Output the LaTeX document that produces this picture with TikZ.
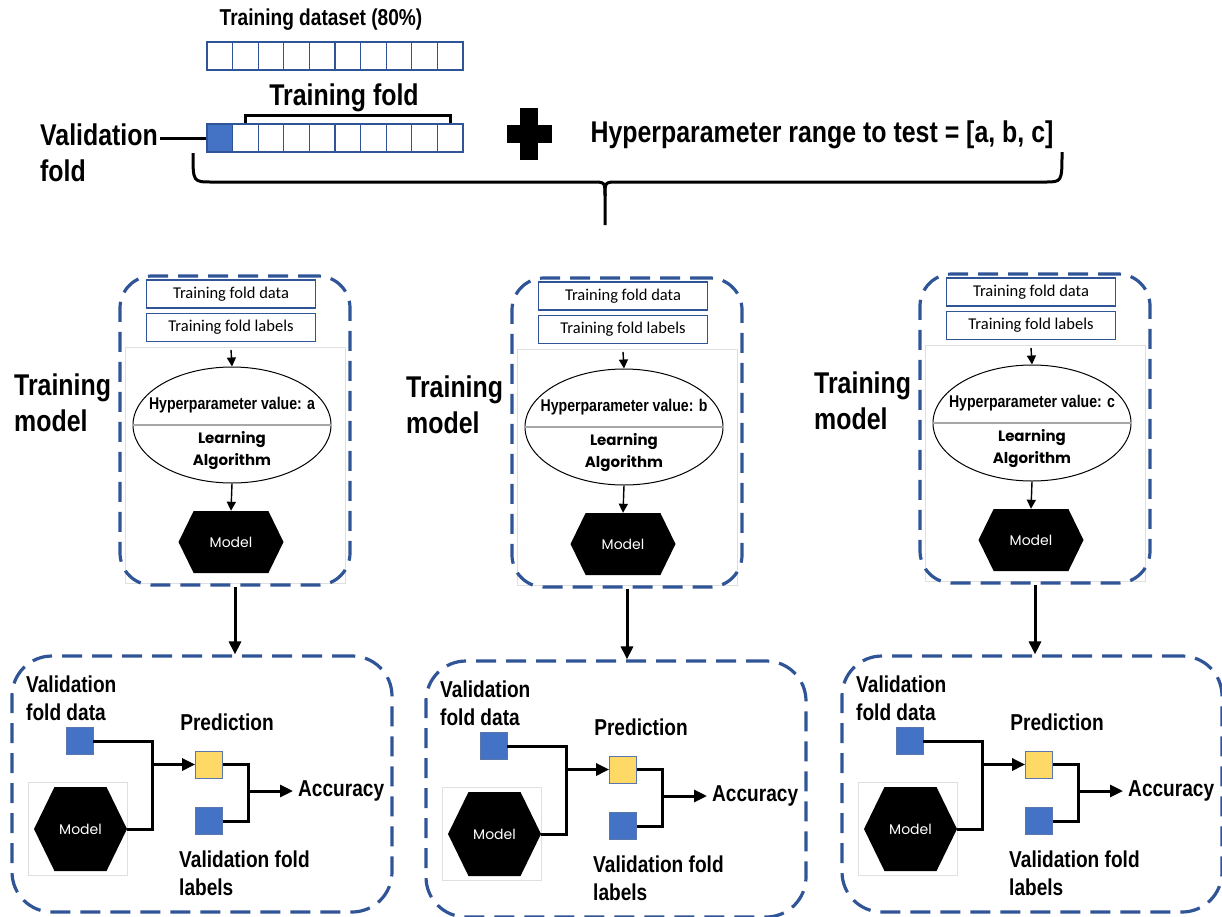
\documentclass[tikz,border=0pt]{standalone}
\usepackage{fontspec}
\setmainfont{Liberation Sans}
\newfontfamily\narrowfont[FakeStretch=0.83]{Liberation Sans}
\newfontfamily\calfont{Carlito}
\newfontfamily\geofont{Poppins}
\usetikzlibrary{arrows.meta,positioning,shapes.geometric,shapes.symbols}
\definecolor{cvblue}{RGB}{68,114,196}
\definecolor{cvdark}{RGB}{47,85,151}
\definecolor{cvyellow}{RGB}{255,217,102}

\tikzset{
  biglabel/.style={font=\narrowfont\bfseries\fontsize{30}{36}\selectfont, align=left, inner sep=0pt},
  midlabel/.style={font=\narrowfont\bfseries\fontsize{23}{28}\selectfont, align=left, inner sep=0pt},
  cell/.style={draw=cvdark, line width=1.3pt, minimum width=25.6pt, minimum height=28pt, inner sep=0pt},
  foldbox/.style={draw=cvdark, line width=1.3pt, minimum width=169pt, minimum height=28pt, inner sep=0pt, font=\calfont\fontsize{16.5}{18}\selectfont},
  dashbox/.style={draw=cvdark, line width=3.2pt, dash pattern=on 20pt off 10pt, rounded corners=32pt, inner sep=0pt},
  hexmodel/.style={signal, signal to=east and west, signal pointer angle=128, fill=black, text=white, inner sep=0pt, font=\geofont\fontsize{14}{16}\selectfont},
  sq/.style={draw=cvdark!80, line width=0.8pt, minimum size=27pt, inner sep=0pt},
  thinarrow/.style={-{Triangle[length=9pt,width=9pt]}, line width=1.4pt},
  fatarrow/.style={-{Triangle[length=13pt,width=12pt]}, line width=3pt},
  wire/.style={line width=3pt},
}

\begin{document}
\begin{tikzpicture}[x=1pt,y=-1pt]
\useasboundingbox (0,0) rectangle (1222,916);
% -- Top: dataset and folds --
\node[midlabel] (dataset) at (321,20) {Training dataset (80\%)};
\foreach \i in {0,...,9}
  \node[cell] (top\i) at (219.8+25.6*\i,56) {};
\foreach \i in {0,...,9}
  \node[cell] (row\i) at (219.8+25.6*\i,138) {};
\node[cell, fill=cvblue] at (row0) {};
\node[biglabel] (foldlbl) at (344,98) {Training fold};
\draw[wire] (row1.north) -- ++(0,-8) -| (row9.north);
\node[biglabel, anchor=west] (valfold) at (40,153) {Validation\\fold};
\coordinate (valend) at (160,138);
\draw[wire] (row0.west) -- (valend);
% plus sign
\fill (507,125) rectangle (552,143);
\fill (520,108) rectangle (538,160);
\node[biglabel] (hrange) at (822,135) {Hyperparameter range to test = [a, b, c]};
% brace
\coordinate (brL) at (193,153);
\coordinate (brR) at (1062,152);
\coordinate (brtip) at (605,225);
\draw[wire] (brL) .. controls (193,182) .. (212,182) -- (592,182)
  .. controls (605,182) .. (605,196) -- (brtip);
\draw[wire] (605,196) .. controls (605,182) .. (618,182) -- (1045,182)
  .. controls (1062,182) .. (brR);
% -- Middle: training models --
\foreach \cx/\dy/\hv in {231/0/a, 623/2/b, 1031/-2/c}{
  \node[biglabel, anchor=west] (train\hv) at (\cx-217,403+\dy) {Training\\model};
  \draw[gray!25, line width=0.6pt] (\cx-106,347+\dy) rectangle (\cx+114,583+\dy);
  \node[dashbox, minimum width=230pt, minimum height=309pt] (tbox\hv) at (\cx+4,430.5+\dy) {};
  \node[foldbox] (fdata\hv) at (\cx,294+\dy) {Training fold data};
  \node[foldbox, below=4pt of fdata\hv] (flabel\hv) {Training fold labels};
  \node[ellipse, draw, line width=1pt, minimum width=198pt, minimum height=116pt, inner sep=0pt] (ell\hv) at (\cx+1,425+\dy) {};
  \draw[gray!70, line width=1.4pt] (ell\hv.west) -- (ell\hv.east);
  \node[font=\narrowfont\bfseries\fontsize{17}{20}\selectfont] (hval\hv) at ([yshift=20pt]ell\hv.center) {Hyperparameter value: \hv};
  \node[font=\geofont\bfseries\fontsize{15}{22}\selectfont, align=center] (alg\hv) at ([yshift=-26pt]ell\hv.center) {Learning\\Algorithm};
  \draw[thinarrow] ([yshift=-8pt]flabel\hv.south) -- (ell\hv.north);
  \node[hexmodel, minimum width=105pt, minimum height=62pt] (mod\hv) at (\cx,542+\dy) {Model};
  \draw[thinarrow] (ell\hv.south) -- (mod\hv.north);
}
% -- Bottom: validation --
\foreach \dx/\dy/\hv in {0/0/a, 414/5/b, 830/0/c}{
  \node[dashbox, rounded corners=40pt, minimum width=380pt, minimum height=256pt] (vbox\hv) at (202+\dx,784+\dy) {};
  \node[midlabel, anchor=west] (vdatalbl\hv) at (26+\dx,698+\dy) {Validation\\fold data};
  \node[sq, fill=cvblue] (vdata\hv) at (79.5+\dx,741+\dy) {};
  \draw[gray!25, line width=0.6pt] (28+\dx,782+\dy) rectangle (127+\dx,875+\dy);
  \node[hexmodel, minimum width=93pt, minimum height=84pt] (vmod\hv) at (80.5+\dx,829+\dy) {Model};
  \node[sq, fill=cvyellow] (pred\hv) at (209+\dx,764.5+\dy) {};
  \node[midlabel] (predlbl\hv) at (227+\dx,722+\dy) {Prediction};
  \node[sq, fill=cvblue] (vlab\hv) at (209+\dx,821+\dy) {};
  \node[midlabel, anchor=west] (vlablbl\hv) at (179+\dx,873+\dy) {Validation fold\\labels};
  \node[midlabel, anchor=west] (acc\hv) at (298+\dx,791+\dy) {Accuracy};
  \coordinate (j1\hv) at (152+\dx,764.5+\dy);
  \coordinate (j2\hv) at (248+\dx,791+\dy);
  \draw[wire] (vdata\hv.east) -| (j1\hv) |- (vmod\hv.east);
  \draw[fatarrow] (j1\hv) -- (pred\hv.west);
  \draw[wire] (pred\hv.east) -| (j2\hv) |- (vlab\hv.east);
  \draw[fatarrow] (j2\hv) -- ([xshift=-5pt]acc\hv.west);
}
% links between rows
\foreach \hv in {a,b,c}
  \draw[fatarrow] (tbox\hv.south) -- (tbox\hv.south |- vbox\hv.north);
\end{tikzpicture}
\end{document}
